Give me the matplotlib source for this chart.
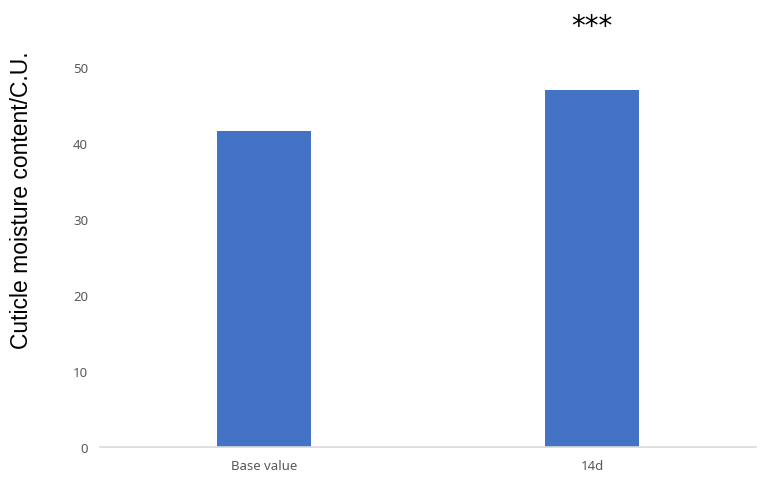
import numpy as np
import matplotlib.pyplot as plt

categorias = ["Base value", "14d"]
valores = [41.6, 47.0]
y_ticks = [0, 10, 20, 30, 40, 50]
signif = "***"

fig = plt.figure(figsize=(7.61, 4.85), dpi=100)
ax = fig.add_axes([0.1314, 0.0763, 0.862, 0.893])

x = np.arange(len(categorias))
ax.bar(x, valores, width=0.287, color="#4472C4", zorder=2)

ax.set_xlim(-0.5, 1.5)
ax.set_ylim(0, 57)
ax.set_yticks(y_ticks)
ax.set_xticks(x)
ax.set_xticklabels(categorias)
ax.tick_params(axis="both", length=0, labelsize=9.5, labelcolor="#595959")
ax.tick_params(axis="y", pad=8.5)
ax.tick_params(axis="x", pad=9)
for lab in ax.get_xticklabels() + ax.get_yticklabels():
    lab.set_fontfamily("Noto Sans")

for s in ["top", "right", "left"]:
    ax.spines[s].set_visible(False)
ax.spines["bottom"].set_color("#d9d9d9")
ax.spines["bottom"].set_linewidth(1.2)

# asteriscos de significancia sobre la barra de 14d
ax.text(x[1], 55.4, signif, ha="center", va="center", fontsize=20,
        family="DejaVu Sans", clip_on=False)

fig.text(0.028, 0.588, "Cuticle moisture content/C.U.", rotation=90,
         ha="center", va="center", fontsize=16.5, family="Liberation Sans")

fig.savefig("out.png", dpi=100)
